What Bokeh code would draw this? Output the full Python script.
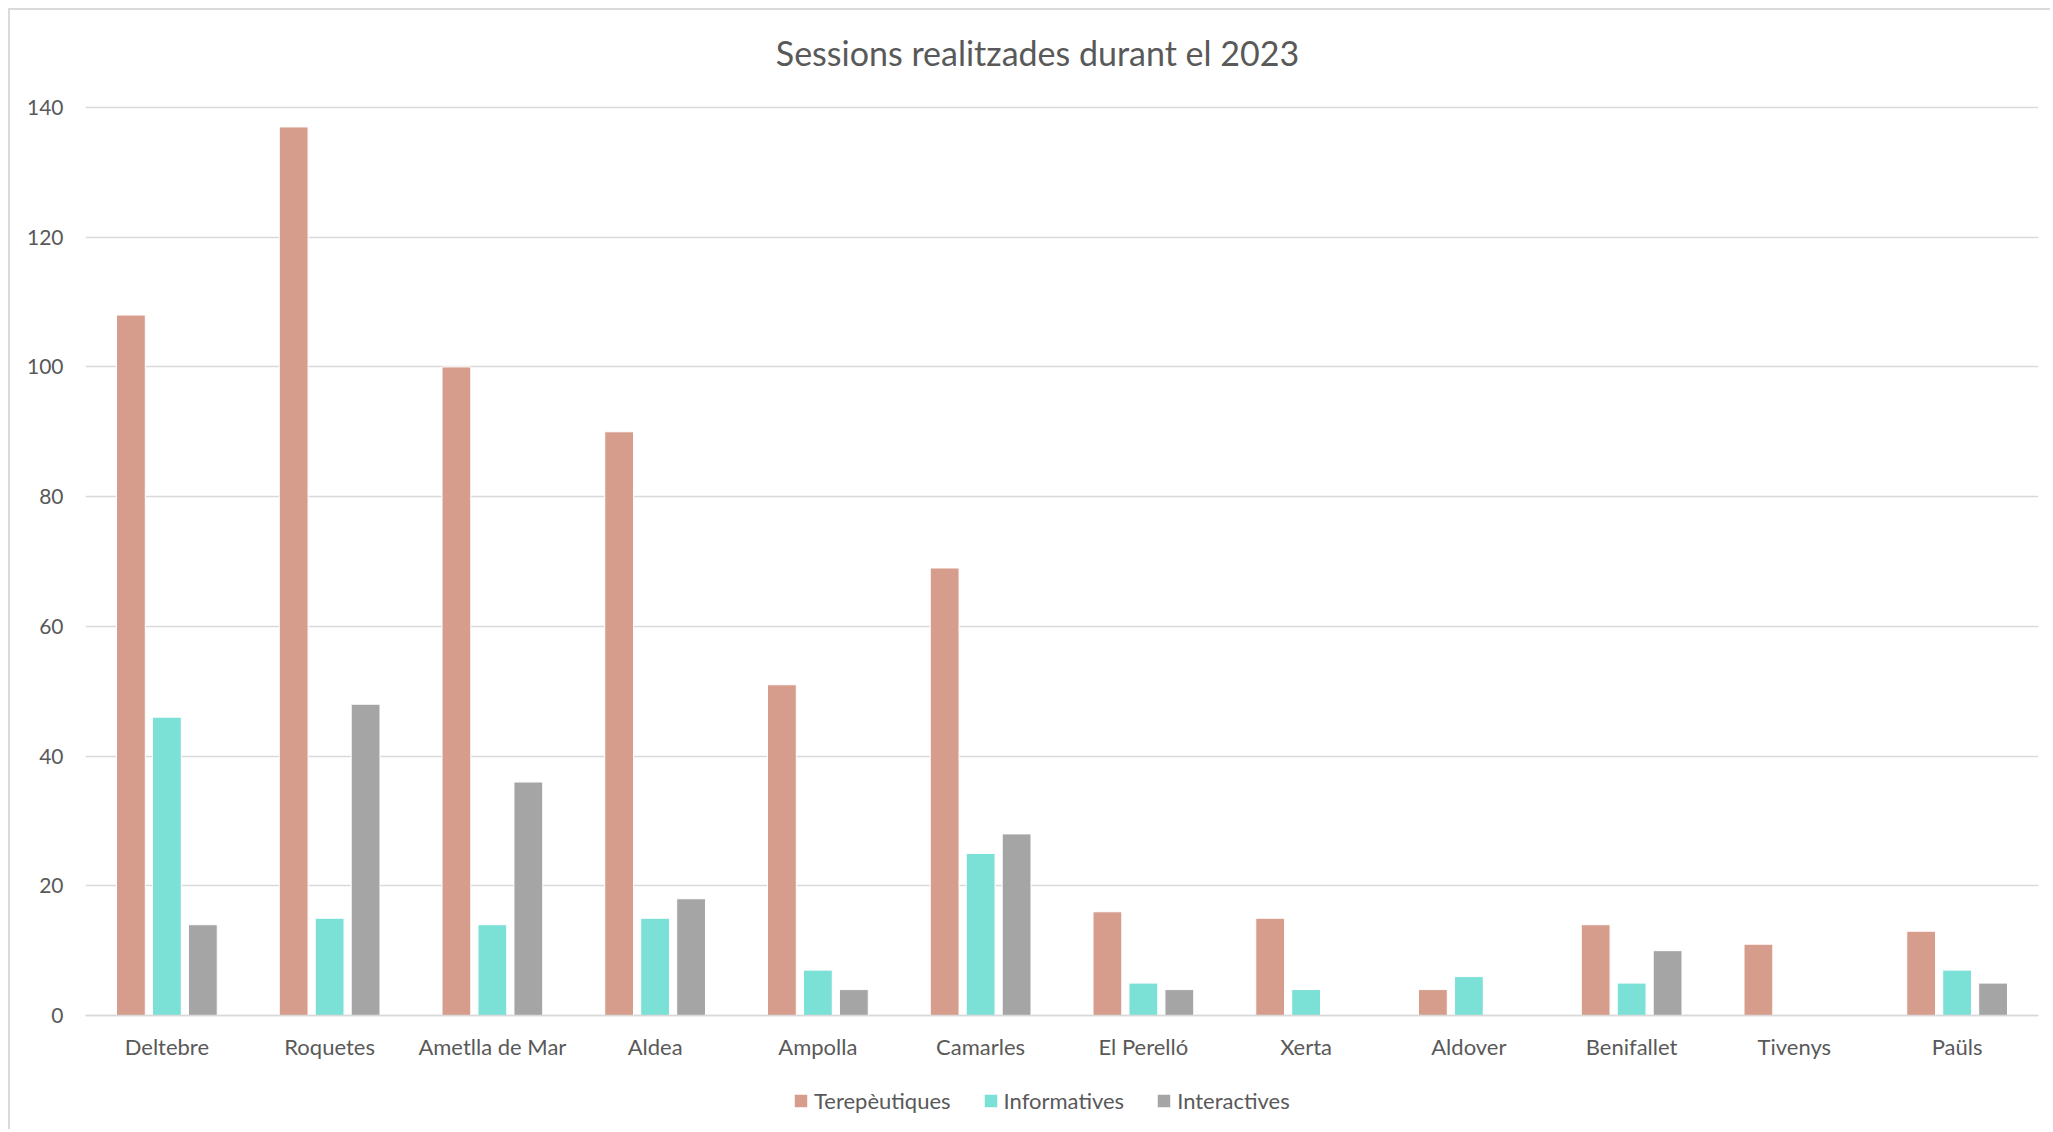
from bokeh.plotting import figure
from bokeh.models import (ColumnDataSource, FactorRange, Range1d, FixedTicker, Legend,
                          LegendItem, Label)
from bokeh.transform import dodge
from bokeh.embed import file_html
from bokeh.resources import INLINE

categories = ["Deltebre", "Roquetes", "Ametlla de Mar", "Aldea", "Ampolla", "Camarles",
              "El Perelló", "Xerta", "Aldover", "Benifallet", "Tivenys", "Paüls"]
terapeutiques = [108, 137, 100, 90, 51, 69, 16, 15, 4, 14, 11, 13]
informatives = [46, 15, 14, 15, 7, 25, 5, 4, 6, 5, 0, 7]
interactives = [14, 48, 36, 18, 4, 28, 4, 0, 0, 10, 0, 5]
series_names = ["Terepèutiques", "Informatives", "Interactives"]
colors = ["#D79D8C", "#7BE0D6", "#A5A5A5"]
y_ticks = [0, 20, 40, 60, 80, 100, 120, 140]
title_text = "Sessions realitzades durant el 2023"

FONT = "Lato"
TXT = "#595959"
GRID = "#D9D9D9"

src = ColumnDataSource(dict(cat=categories, t=terapeutiques, i=informatives, x=interactives))

# frame covers the whole chart area; the value axis spans 0..140 inside it
p = figure(x_range=FactorRange(factors=categories), y_range=Range1d(-17.11, 154.8),
           width=2042, height=1121, output_backend="svg", toolbar_location=None,
           min_border_left=75, min_border_right=14, min_border_top=1, min_border_bottom=5)
p.margin = (8, 0, 0, 8)
p.styles = {"border-left": "2px solid #DADADA", "border-top": "2px solid #DADADA"}
p.outline_line_color = None
p.background_fill_color = "white"
p.border_fill_color = "white"

bw = 0.177
off = 0.221
r1 = p.vbar(x=dodge("cat", -off, range=p.x_range), top="t", bottom=0, width=bw, source=src,
            fill_color=colors[0], line_color="white", line_width=1)
r2 = p.vbar(x=dodge("cat", 0, range=p.x_range), top="i", bottom=0, width=bw, source=src,
            fill_color=colors[1], line_color="white", line_width=1)
r3 = p.vbar(x=dodge("cat", off, range=p.x_range), top="x", bottom=0, width=bw, source=src,
            fill_color=colors[2], line_color="white", line_width=1)

p.xgrid.grid_line_color = None
p.ygrid.grid_line_color = GRID
p.ygrid.grid_line_width = 1.5
p.ygrid.ticker = FixedTicker(ticks=y_ticks)
p.yaxis.ticker = FixedTicker(ticks=y_ticks)
p.yaxis.axis_line_color = None
p.yaxis.major_tick_line_color = None
p.yaxis.minor_tick_line_color = None
p.yaxis.major_label_text_font = FONT
p.yaxis.major_label_text_font_size = "21px"
p.yaxis.major_label_text_color = TXT
p.yaxis.major_label_standoff = 16

p.xaxis.fixed_location = 0
p.xaxis.axis_line_color = GRID
p.xaxis.axis_line_width = 1.5
p.xaxis.major_tick_line_color = None
p.xaxis.minor_tick_line_color = None
p.xaxis.major_label_text_font = FONT
p.xaxis.major_label_text_font_size = "22px"
p.xaxis.major_label_text_color = TXT
p.xaxis.major_label_standoff = 11

title = Label(x=952, y=1074, x_units="screen", y_units="screen", text=title_text,
              text_align="center", text_baseline="middle", text_font=FONT,
              text_font_size="34px", text_color=TXT)
p.add_layout(title)

legend = Legend(items=[LegendItem(label=series_names[0], renderers=[r1]),
                       LegendItem(label=series_names[1], renderers=[r2]),
                       LegendItem(label=series_names[2], renderers=[r3])],
                orientation="horizontal", location=(707, 12),
                border_line_color=None, background_fill_alpha=0,
                glyph_width=17, glyph_height=17, label_standoff=5, spacing=31,
                padding=0, margin=0,
                label_text_font=FONT, label_text_font_size="22px", label_text_color=TXT)
p.add_layout(legend, "center")

open("out.html", "w").write(file_html(p, INLINE))
